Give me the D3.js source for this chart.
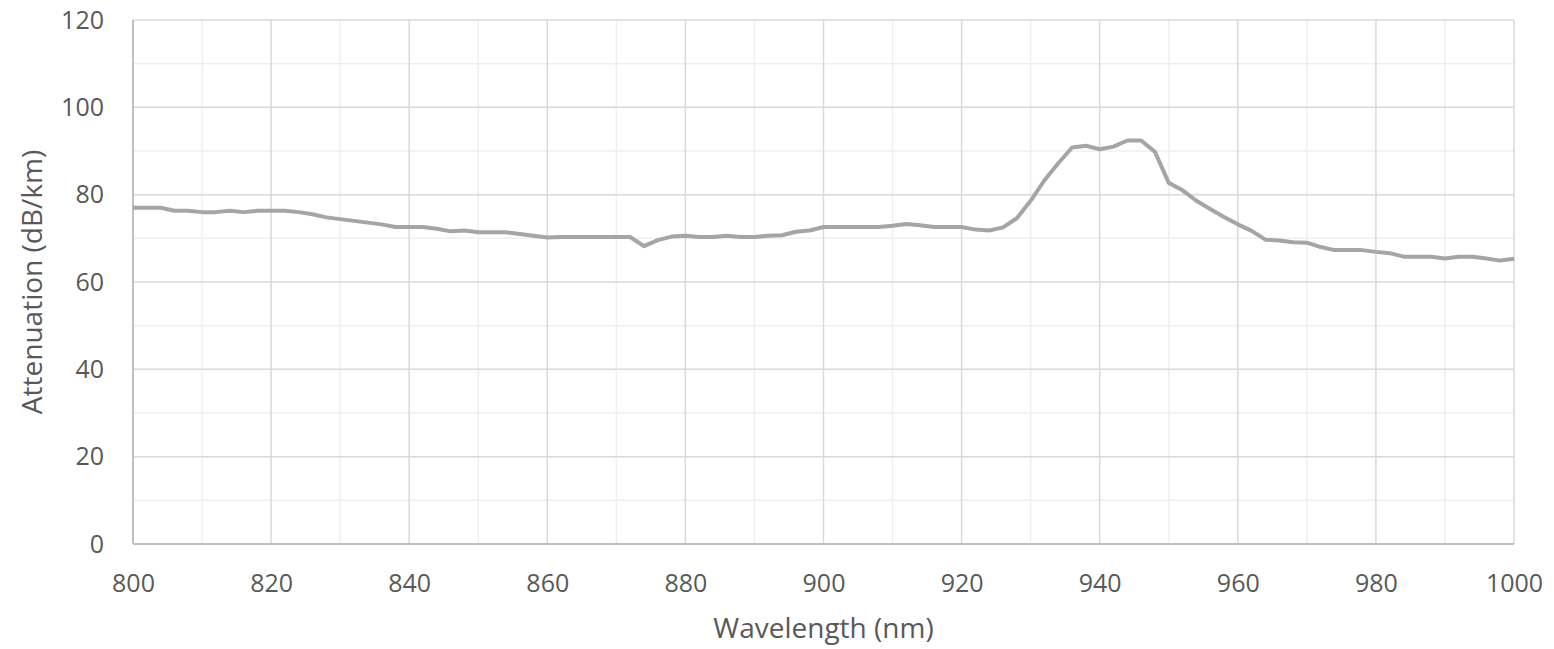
<!DOCTYPE html>
<html>
<head>
<meta charset="utf-8">
<script src="https://cdn.jsdelivr.net/npm/d3@7"></script>
<style>
  body { margin: 0; background: #fff; }
  .tickText text { font-family: 'Open Sans', sans-serif; font-size: 25px; fill: #595959; }
  .axisTitle { font-family: 'Open Sans', sans-serif; font-size: 28px; fill: #595959; }
</style>
</head>
<body>
<div class="chart"></div>
<script>
'use strict';

// wavelength (nm), sampled every 2 nm
var wavelengths = [
  800, 802, 804, 806, 808, 810, 812, 814, 816, 818,
  820, 822, 824, 826, 828, 830, 832, 834, 836, 838,
  840, 842, 844, 846, 848, 850, 852, 854, 856, 858,
  860, 862, 864, 866, 868, 870, 872, 874, 876, 878,
  880, 882, 884, 886, 888, 890, 892, 894, 896, 898,
  900, 902, 904, 906, 908, 910, 912, 914, 916, 918,
  920, 922, 924, 926, 928, 930, 932, 934, 936, 938,
  940, 942, 944, 946, 948, 950, 952, 954, 956, 958,
  960, 962, 964, 966, 968, 970, 972, 974, 976, 978,
  980, 982, 984, 986, 988, 990, 992, 994, 996, 998,
  1000
];

// attenuation (dB/km)
var attenuation = [
  77.0, 77.0, 77.0, 76.3, 76.3, 76.0, 76.0, 76.3, 76.0, 76.3,
  76.3, 76.3, 76.0, 75.5, 74.8, 74.4, 74.0, 73.6, 73.2, 72.6,
  72.6, 72.6, 72.2, 71.6, 71.8, 71.4, 71.4, 71.4, 71.0, 70.6,
  70.2, 70.3, 70.3, 70.3, 70.3, 70.3, 70.3, 68.2, 69.6, 70.4,
  70.6, 70.3, 70.3, 70.6, 70.3, 70.3, 70.6, 70.7, 71.5, 71.8,
  72.6, 72.6, 72.6, 72.6, 72.6, 72.9, 73.3, 73.0, 72.6, 72.6,
  72.6, 72.0, 71.8, 72.5, 74.6, 78.6, 83.3, 87.2, 90.8, 91.2,
  90.4, 91.0, 92.4, 92.4, 89.8, 82.7, 81.0, 78.6, 76.7, 74.9,
  73.2, 71.7, 69.7, 69.5, 69.1, 69.0, 68.0, 67.3, 67.3, 67.3,
  66.9, 66.6, 65.8, 65.8, 65.8, 65.4, 65.8, 65.8, 65.4, 64.9,
  65.3
];

var xTicks = [800, 820, 840, 860, 880, 900, 920, 940, 960, 980, 1000];
var yTicks = [0, 20, 40, 60, 80, 100, 120];
var xMinor = [810, 830, 850, 870, 890, 910, 930, 950, 970, 990];
var yMinor = [10, 30, 50, 70, 90, 110];

var margin = {top: 20, right: 40, bottom: 105, left: 133},
  width = 1554 - margin.left - margin.right,
  height = 649 - margin.top - margin.bottom;

var data = wavelengths.map(function(w, i) {
  return {wl: w, att: attenuation[i]};
});

var x = d3.scaleLinear()
  .domain([800, 1000])
  .range([0, width]);

var y = d3.scaleLinear()
  .domain([0, 120])
  .range([height, 0]);

var svg = d3.select('.chart').append('svg')
  .attr('width', width + margin.left + margin.right)
  .attr('height', height + margin.top + margin.bottom)
  .append('g')
  .attr('transform', 'translate(' + margin.left + ', ' + margin.top + ')');

// minor gridlines
svg.append('g')
  .selectAll('line')
  .data(xMinor)
  .enter().append('line')
  .attr('x1', function(d) { return x(d); })
  .attr('x2', function(d) { return x(d); })
  .attr('y1', 0)
  .attr('y2', height)
  .attr('stroke', '#efefef')
  .attr('stroke-width', 1.5);

svg.append('g')
  .selectAll('line')
  .data(yMinor)
  .enter().append('line')
  .attr('x1', 0)
  .attr('x2', width)
  .attr('y1', function(d) { return y(d); })
  .attr('y2', function(d) { return y(d); })
  .attr('stroke', '#efefef')
  .attr('stroke-width', 1.5);

// major gridlines
svg.append('g')
  .selectAll('line')
  .data(xTicks)
  .enter().append('line')
  .attr('x1', function(d) { return x(d); })
  .attr('x2', function(d) { return x(d); })
  .attr('y1', 0)
  .attr('y2', height)
  .attr('stroke', '#d9d9d9')
  .attr('stroke-width', 1.5);

svg.append('g')
  .selectAll('line')
  .data(yTicks)
  .enter().append('line')
  .attr('x1', 0)
  .attr('x2', width)
  .attr('y1', function(d) { return y(d); })
  .attr('y2', function(d) { return y(d); })
  .attr('stroke', '#d9d9d9')
  .attr('stroke-width', 1.5);

// axes (labels only, domain drawn separately)
var xAxis = svg.append('g')
  .attr('transform', 'translate(0,' + height + ')')
  .attr('class', 'tickText')
  .call(d3.axisBottom(x).tickValues(xTicks).tickSize(0).tickPadding(30).tickFormat(d3.format('d')));
xAxis.select('.domain').remove();

var yAxis = svg.append('g')
  .attr('class', 'tickText')
  .call(d3.axisLeft(y).tickValues(yTicks).tickSize(0).tickPadding(29).tickFormat(d3.format('d')));
yAxis.select('.domain').remove();

svg.append('line')
  .attr('x1', 0).attr('x2', 0)
  .attr('y1', 0).attr('y2', height)
  .attr('stroke', '#bfbfbf')
  .attr('stroke-width', 2);

svg.append('line')
  .attr('x1', 0).attr('x2', width)
  .attr('y1', height).attr('y2', height)
  .attr('stroke', '#bfbfbf')
  .attr('stroke-width', 2);

// the series
var line = d3.line()
  .x(function(d) { return x(d.wl); })
  .y(function(d) { return y(d.att); });

svg.append('path')
  .datum(data)
  .attr('fill', 'none')
  .attr('stroke', '#a5a5a5')
  .attr('stroke-width', 4)
  .attr('stroke-linejoin', 'round')
  .attr('d', line);

// axis titles
svg.append('text')
  .attr('class', 'axisTitle')
  .attr('x', width / 2)
  .attr('y', height + 94)
  .attr('text-anchor', 'middle')
  .text('Wavelength (nm)');

svg.append('text')
  .attr('class', 'axisTitle')
  .attr('transform', 'translate(' + (-91) + ',' + (height / 2) + ') rotate(-90)')
  .attr('text-anchor', 'middle')
  .text('Attenuation (dB/km)');
</script>
</body>
</html>
